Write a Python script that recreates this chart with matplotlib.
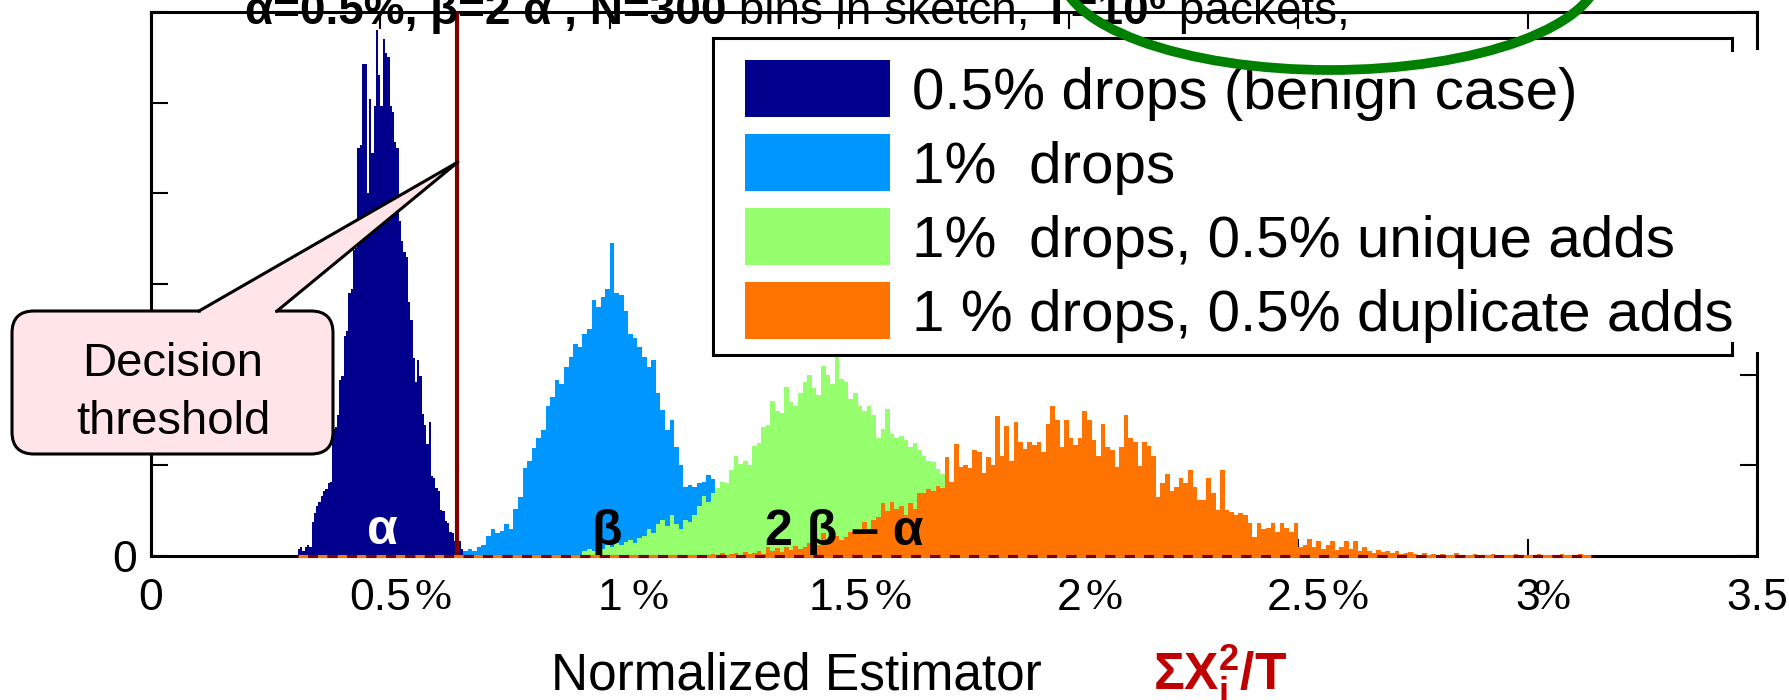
import numpy as np
import matplotlib
matplotlib.use("Agg")
import matplotlib.pyplot as plt
from matplotlib.patches import Rectangle, FancyBboxPatch, Ellipse, Polygon
from matplotlib.lines import Line2D
from matplotlib.transforms import Affine2D

W, H = 1790, 700

plt.rcParams.update({
    "font.family": ["Liberation Sans", "DejaVu Sans"],
    "mathtext.fontset": "custom",
    "mathtext.rm": "Liberation Sans",
    "mathtext.it": "Liberation Sans:italic",
    "mathtext.bf": "Liberation Sans:bold",
    "lines.scale_dashes": False,
})

# ---- histogram counts ----
benign_start, benign_width = 0.32, 0.005
benign = [0.08, 0.10, 0.06, 0.10, 0.12, 0.10, 0.38, 0.47, 0.55, 0.60,
          0.66, 0.72, 0.74, 0.80, 0.82, 1.40, 1.42, 1.55, 1.94, 1.98,
          2.43, 2.48, 2.90, 2.95, 3.37, 3.40, 4.50, 4.53, 5.43, 5.43,
          4.00, 5.04, 4.45, 4.96, 5.80, 5.30, 4.96, 5.70, 5.55, 5.50,
          4.96, 4.90, 4.57, 4.50, 3.70, 3.47, 3.35, 3.30, 2.80, 2.60,
          2.18, 1.92, 2.16, 1.98, 1.57, 1.45, 1.24, 1.48, 0.88, 0.86,
          0.75, 0.72, 0.51, 0.50, 0.39, 0.36, 0.27, 0.25, 0.16, 0.14,
          0.16, 0.08]

drops_start, drops_width = 0.68, 0.01
drops = [0.05, 0.08, 0.06, 0.10, 0.12, 0.22, 0.30, 0.25, 0.28, 0.35,
         0.30, 0.52, 0.65, 0.97, 1.05, 1.19, 1.30, 1.39, 1.65, 1.75,
         1.94, 1.90, 2.09, 2.20, 2.34, 2.30, 2.45, 2.50, 2.82, 2.75,
         2.86, 2.95, 3.45, 2.90, 2.88, 2.70, 2.45, 2.40, 2.31, 2.20,
         2.09, 2.16, 1.80, 1.61, 1.39, 1.50, 1.20, 1.00, 0.76, 0.78,
         0.76, 0.80, 0.82, 0.89, 0.85, 0.30, 0.15]

unique_start, unique_width = 0.94, 0.01
unique = [0.05, 0.08, 0.06, 0.10, 0.08, 0.12, 0.10, 0.14, 0.12, 0.15,
          0.18, 0.14, 0.20, 0.22, 0.30, 0.25, 0.35, 0.40, 0.33, 0.45,
          0.35, 0.30, 0.40, 0.38, 0.45, 0.55, 0.66, 0.60, 0.70, 0.75,
          0.82, 0.80, 0.95, 1.10, 1.02, 1.05, 1.00, 1.21, 1.25, 1.42,
          1.45, 1.71, 1.60, 1.58, 1.86, 1.70, 1.65, 1.80, 1.92, 2.00,
          1.85, 1.78, 2.10, 2.00, 1.90, 2.19, 1.95, 1.92, 1.73, 1.80,
          1.65, 1.60, 1.65, 1.55, 1.30, 1.40, 1.62, 1.35, 1.30, 1.32,
          1.28, 1.20, 1.25, 1.17, 1.10, 1.05, 1.04, 0.96, 0.90, 0.78,
          0.72, 0.68, 0.60, 0.55, 0.50, 0.45, 0.42, 0.38, 0.33, 0.30,
          0.26, 0.22, 0.20, 0.16, 0.14, 0.12, 0.10, 0.08, 0.07, 0.06,
          0.05, 0.04]

dup_start, dup_width = 1.22, 0.01
dup = [0.02, 0.00, 0.03, 0.00, 0.02, 0.03, 0.00, 0.04, 0.02, 0.03,
       0.05, 0.02, 0.10, 0.06, 0.09, 0.04, 0.10, 0.07, 0.11, 0.08,
       0.10, 0.14, 0.18, 0.12, 0.25, 0.16, 0.20, 0.22, 0.18, 0.21,
       0.26, 0.29, 0.24, 0.38, 0.30, 0.40, 0.43, 0.58, 0.50, 0.60,
       0.52, 0.55, 0.45, 0.58, 0.52, 0.69, 0.70, 0.74, 0.72, 0.77,
       0.75, 1.09, 0.82, 1.24, 0.98, 1.00, 0.97, 1.17, 1.15, 0.91,
       1.09, 1.00, 1.54, 1.10, 1.43, 1.05, 1.48, 1.26, 1.18, 1.26,
       1.22, 1.26, 1.15, 1.46, 1.65, 1.50, 1.20, 1.50, 1.30, 1.22,
       1.30, 1.60, 1.50, 1.28, 1.10, 1.46, 1.20, 1.17, 0.98, 1.20,
       1.55, 1.30, 1.26, 0.99, 1.26, 1.21, 1.10, 0.65, 0.80, 0.90,
       0.72, 0.76, 0.86, 0.80, 0.95, 0.76, 0.62, 0.62, 0.86, 0.70,
       0.51, 0.95, 0.51, 0.48, 0.45, 0.47, 0.45, 0.36, 0.21, 0.36,
       0.30, 0.31, 0.36, 0.27, 0.36, 0.31, 0.27, 0.36, 0.10, 0.12,
       0.19, 0.10, 0.16, 0.08, 0.12, 0.16, 0.07, 0.10, 0.16, 0.08,
       0.16, 0.05, 0.10, 0.06, 0.03, 0.07, 0.04, 0.06, 0.03, 0.05,
       0.02, 0.03, 0.04, 0.02, 0.00, 0.03, 0.01, 0.02, 0.00, 0.02,
       0.00, 0.01, 0.03, 0.00, 0.01, 0.00, 0.02, 0.00, 0.01, 0.00,
       0.02, 0.00, 0.01, 0.00, 0.00, 0.02, 0.00, 0.01, 0.00, 0.00,
       0.02, 0.00, 0.01, 0.00, 0.00, 0.02, 0.00, 0.01, 0.00, 0.02,
       0.00, 0.01, 0.00]

series_labels = ["0.5% drops (benign case)", "1%  drops",
                 "1%  drops, 0.5% unique adds", "1 % drops, 0.5% duplicate adds"]
series_colors = ["#00008c", "#0096ff", "#96ff6e", "#ff7300"]
threshold = 0.667

xticks = [0, 0.5, 1, 1.5, 2, 2.5, 3, 3.5]
xtick_labels = ["0", "0.5", "1", "1.5", "2", "2.5", "3", "3.5"]
pct_ticks = [0.5, 1, 1.5, 2, 2.5, 3]
pct_offset_px = [34, 22, 35, 17, 33, 6]

fig = plt.figure(figsize=(W / 100, H / 100), dpi=100)
# pixel coordinates, y going down
T = Affine2D().scale(1 / W, -1 / H).translate(0, 1) + fig.transFigure

ax = fig.add_axes([151 / W, 1 - 556 / H, (1757 - 151) / W, (556 - 12) / H])

hists = [(benign_start, benign_width, benign), (drops_start, drops_width, drops),
         (unique_start, unique_width, unique), (dup_start, dup_width, dup)]
for i, ((start, width, vals), col) in enumerate(zip(hists, series_colors)):
    edges = start + width * np.arange(len(vals) + 1)
    ax.stairs(vals, edges, fill=True, color=col, lw=0, zorder=2 + 0.1 * i)

ax.axvline(threshold, color="#800000", lw=3, zorder=4)

# dashed baseline
ax.plot([0.32, 3.14], [0, 0], color="#ff7300", lw=2.2, ls=(0, (7, 7)), clip_on=False, zorder=6)
ax.plot([0.32, 3.14], [0, 0], color="#800000", lw=2.2, ls=(7, (7, 7)), clip_on=False, zorder=6)

ax.set_xlim(0, 3.5)
ax.set_ylim(0, 6)
ax.set_xticks(xticks)
ax.set_xticklabels(xtick_labels)
ax.set_yticks(range(7))
ax.set_yticklabels(["0"] + [""] * 6)
ax.tick_params(direction="in", length=12, width=1.5, top=True, right=True, labelsize=32)
ax.tick_params(axis="x", pad=16)
ax.tick_params(axis="y", pad=10)
for sp in ax.spines.values():
    sp.set_linewidth(2.2)

for t, off in zip(pct_ticks, pct_offset_px):
    ax.annotate("%", xy=(t, 0), xycoords=("data", "axes fraction"),
                xytext=(off * 0.72, -16), textcoords="offset points",
                ha="left", va="top", fontsize=32, family=["Liberation Serif", "DejaVu Serif"],
                annotation_clip=False)

ax.text(0.505, 0.13, "α", color="white", fontweight="bold", fontsize=36, ha="center", va="baseline", zorder=7)
ax.text(0.993, 0.12, "β", fontweight="bold", fontsize=36, ha="center", va="baseline", zorder=7)
ax.text(1.511, 0.12, "2 β – α", fontweight="bold", fontsize=36, ha="center", va="baseline", zorder=7)

# legend (drawn by hand to match the boxed layout)
fig.add_artist(Rectangle((713, 38), 1732 - 713, 355 - 38, transform=T, fc="white", ec="none", zorder=5))
fig.add_artist(Rectangle((1732, 50), 32, 302, transform=T, fc="white", ec="none", zorder=5))
for xs, ys in [([713, 1732], [38, 38]), ([713, 1732], [355, 355]), ([713, 713], [38, 355]),
               ([1732, 1732], [38, 50]), ([1732, 1732], [343, 355])]:
    fig.add_artist(Line2D(xs, ys, transform=T, color="black", lw=2.2, zorder=6))
row_y = [88, 162, 236, 310]
for y, lab, col in zip(row_y, series_labels, series_colors):
    fig.add_artist(Rectangle((745, y - 28.5), 145, 57, transform=T, fc=col, ec="none", zorder=6))
    fig.text(912, y + 21, lab, transform=T, fontsize=42, ha="left", va="baseline", zorder=7)

# decision threshold callout
pink = "#ffe4e8"
fig.add_artist(FancyBboxPatch((12, 311), 321, 143, boxstyle="round,pad=0,rounding_size=22",
                              transform=T, fc=pink, ec="black", lw=2.2, zorder=8))
fig.add_artist(Polygon([(201, 311), (458, 162), (275, 311), (275, 315), (201, 315)],
                       closed=True, transform=T, fc=pink, ec="none", zorder=9))
fig.add_artist(Line2D([199, 458, 277], [311, 162, 311], transform=T, color="black", lw=2.2, zorder=9))
fig.text(173, 376, "Decision", transform=T, fontsize=34, ha="center", va="baseline", zorder=10)
fig.text(173, 434, "threshold", transform=T, fontsize=34, ha="center", va="baseline", zorder=10)

# x axis caption
fig.text(551, 690, "Normalized Estimator", transform=T, fontsize=37, ha="left", va="baseline")
fig.text(1153, 690, r"$\mathbf{ΣX_i^2/T}$", transform=T, fontsize=37, color="#c00000",
         ha="left", va="baseline")

# title line (cut off at the top edge)
renderer = fig.canvas.get_renderer()
pieces = [("α=0.5%, β=2 α , N=300", "bold", 33, 0),
          (" bins in sketch,", "normal", 33, 0),
          (" T=10", "bold", 33, 0),
          ("6", "bold", 22, 15),
          (" packets,", "normal", 33, 0)]
x = 245
for s, wt, size, dy in pieces:
    t = fig.text(x, 24 - dy, s, transform=T, fontsize=size, fontweight=wt, ha="left", va="baseline", zorder=9)
    x += t.get_window_extent(renderer).width

fig.add_artist(Ellipse((1330, -30), 540, 200, transform=T, fill=False, ec="#008000", lw=7, zorder=20))

fig.savefig("out.png", dpi=100)
